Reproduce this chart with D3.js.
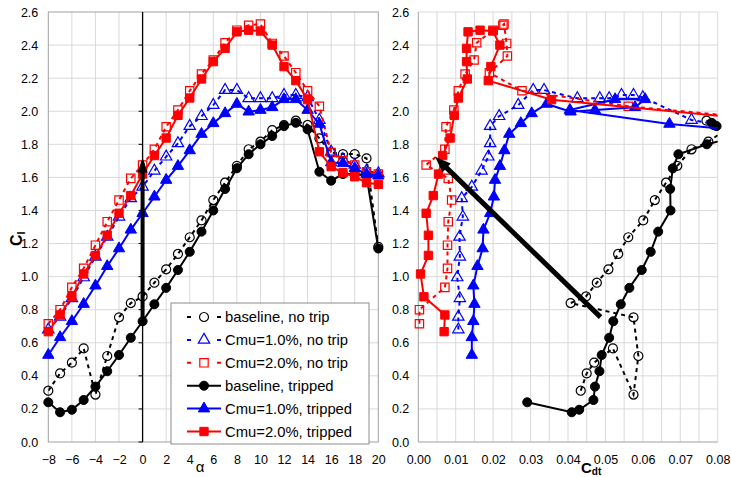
<!DOCTYPE html>
<html>
<head>
<meta charset="utf-8">
<script src="https://cdn.jsdelivr.net/npm/d3@7"></script>
<style>
  body { margin: 0; background: #fff; }
  svg text { font-family: Arial, "Liberation Sans", sans-serif; }
</style>
</head>
<body>
<svg id="chart" width="731" height="477"></svg>
<script>
// angle of attack for every series
var alpha = [-8, -7, -6, -5, -4, -3, -2, -1, 0, 1, 2, 3, 4, 5, 6, 7, 8, 9, 10, 11, 12, 13, 14, 15, 16, 17, 18, 19, 20];

// lift coefficient
var clBaseNoTrip = [0.31, 0.415, 0.48, 0.566, 0.287, 0.52, 0.754, 0.84, 0.88, 0.963, 1.044, 1.137, 1.238, 1.34, 1.463, 1.568, 1.67, 1.77, 1.816, 1.886, 1.916, 1.943, 1.917, 1.836, 1.75, 1.741, 1.741, 1.715, 1.18];
var clCmu1NoTrip = [0.68, 0.757, 0.869, 0.995, 1.12, 1.24, 1.362, 1.473, 1.543, 1.64, 1.725, 1.806, 1.91, 1.97, 2.037, 2.128, 2.128, 2.078, 2.078, 2.078, 2.098, 2.098, 2.084, 1.947, 1.755, 1.709, 1.675, 1.64, 1.624];
var clCmu2NoTrip = [0.715, 0.80, 0.935, 1.05, 1.19, 1.332, 1.463, 1.594, 1.675, 1.77, 1.906, 2.007, 2.124, 2.225, 2.31, 2.414, 2.49, 2.52, 2.527, 2.41, 2.334, 2.233, 2.124, 2.03, 1.75, 1.70, 1.675, 1.634, 1.62];
var clBaseTrip = [0.24, 0.18, 0.195, 0.254, 0.335, 0.428, 0.526, 0.63, 0.73, 0.833, 0.932, 1.04, 1.15, 1.272, 1.40, 1.53, 1.655, 1.74, 1.80, 1.85, 1.91, 1.93, 1.89, 1.634, 1.58, 1.62, 1.62, 1.61, 1.17];
var clCmu1Trip = [0.526, 0.633, 0.73, 0.834, 0.945, 1.063, 1.17, 1.283, 1.383, 1.483, 1.584, 1.668, 1.763, 1.862, 1.927, 1.987, 2.044, 1.997, 2.007, 2.024, 2.072, 2.072, 2.007, 1.923, 1.69, 1.685, 1.655, 1.62, 1.61];
var clCmu2Trip = [0.667, 0.768, 0.878, 1.016, 1.128, 1.25, 1.383, 1.49, 1.62, 1.732, 1.838, 1.975, 2.08, 2.195, 2.30, 2.38, 2.48, 2.49, 2.485, 2.40, 2.27, 2.185, 2.07, 1.755, 1.665, 1.628, 1.604, 1.568, 1.558];

// total drag coefficient (points past 0.08 fall outside the right plot)
var cdtBaseNoTrip = [0.0434, 0.045, 0.047, 0.052, 0.0575, 0.0588, 0.0575, 0.0407, 0.0448, 0.0477, 0.0508, 0.0534, 0.0561, 0.0601, 0.0632, 0.0662, 0.0692, 0.073, 0.0775, 0.082, 0.079, 0.077, 0.085, 0.095, 0.105, 0.11, 0.12, 0.13, 0.16];
var cdtCmu1NoTrip = [0.0107, 0.0107, 0.0111, 0.0104, 0.0111, 0.011, 0.0119, 0.0116, 0.0143, 0.0169, 0.0187, 0.0192, 0.0192, 0.0216, 0.0267, 0.0307, 0.0336, 0.0425, 0.0485, 0.051, 0.0543, 0.0575, 0.06, 0.073, 0.12, 0.13, 0.14, 0.15, 0.16];
var cdtCmu2NoTrip = [0.0003, 0.0003, 0.0071, 0.0078, 0.0078, 0.008, 0.0089, 0.008, 0.0021, 0.0071, 0.0074, 0.0095, 0.0107, 0.0125, 0.0149, 0.0156, 0.02, 0.0226, 0.0229, 0.0236, 0.0238, 0.019, 0.0277, 0.0561, 0.19, 0.2, 0.21, 0.22, 0.23];
var cdtBaseTrip = [0.0291, 0.041, 0.043, 0.0468, 0.0472, 0.0484, 0.049, 0.051, 0.0521, 0.0541, 0.0564, 0.0597, 0.0621, 0.0641, 0.0674, 0.0673, 0.068, 0.0695, 0.0771, 0.086, 0.0797, 0.0784, 0.083, 0.1, 0.11, 0.12, 0.13, 0.14, 0.17];
var cdtCmu1Trip = [0.0143, 0.0143, 0.0147, 0.015, 0.0147, 0.0158, 0.0172, 0.0174, 0.0192, 0.0202, 0.0205, 0.0218, 0.023, 0.0243, 0.0274, 0.0303, 0.0343, 0.0407, 0.0472, 0.0579, 0.0606, 0.0526, 0.0405, 0.0671, 0.183, 0.19, 0.2, 0.21, 0.22];
var cdtCmu2Trip = [0.0069, 0.0071, 0.0015, 0.0006, 0.0027, 0.0027, 0.0021, 0.004, 0.0054, 0.0065, 0.0085, 0.0096, 0.0107, 0.0131, 0.0129, 0.0129, 0.0133, 0.0165, 0.0199, 0.0218, 0.0194, 0.0187, 0.0356, 0.18, 0.2, 0.21, 0.22, 0.23, 0.24];

var seriesNames = ["baseline, no trip", "Cmu=1.0%, no trip", "Cmu=2.0%, no trip", "baseline, tripped", "Cmu=1.0%, tripped", "Cmu=2.0%, tripped"];

// tick labels
var alphaTicks = [-8, -6, -4, -2, 0, 2, 4, 6, 8, 10, 12, 14, 16, 18, 20];
var clTicks = [0, 0.2, 0.4, 0.6, 0.8, 1.0, 1.2, 1.4, 1.6, 1.8, 2.0, 2.2, 2.4, 2.6];
var cdtTicks = [0, 0.01, 0.02, 0.03, 0.04, 0.05, 0.06, 0.07, 0.08];

// annotation arrows [x1, y1, x2, y2] in data units
var arrowLeft = [0, 0.74, 0, 1.72];
var arrowRight = [0.0487, 0.755, 0.0045, 1.725];

var series = [
    { name: seriesNames[0], cl: clBaseNoTrip, cdt: cdtBaseNoTrip, color: "#000", dash: true, shape: "circle", filled: false },
    { name: seriesNames[1], cl: clCmu1NoTrip, cdt: cdtCmu1NoTrip, color: "#0000ff", dash: true, shape: "triangle", filled: false },
    { name: seriesNames[2], cl: clCmu2NoTrip, cdt: cdtCmu2NoTrip, color: "#ff0000", dash: true, shape: "square", filled: false },
    { name: seriesNames[3], cl: clBaseTrip, cdt: cdtBaseTrip, color: "#000", dash: false, shape: "circle", filled: true },
    { name: seriesNames[4], cl: clCmu1Trip, cdt: cdtCmu1Trip, color: "#0000ff", dash: false, shape: "triangle", filled: true },
    { name: seriesNames[5], cl: clCmu2Trip, cdt: cdtCmu2Trip, color: "#ff0000", dash: false, shape: "square", filled: true }
];

var svg = d3.select("#chart");
var gridColor = "#d9d9d9", frameColor = "#a0a0a0";

var xL = d3.scaleLinear().domain([-8, 20]).range([48.3, 378.3]);
var xR = d3.scaleLinear().domain([0, 0.08]).range([418.3, 717.7]);
var y = d3.scaleLinear().domain([0, 2.6]).range([442, 12]);

var defs = svg.append("defs");
defs.append("clipPath").attr("id", "clipL").append("rect")
    .attr("x", xL(-8)).attr("y", y(2.6)).attr("width", xL(20) - xL(-8)).attr("height", y(0) - y(2.6));
defs.append("clipPath").attr("id", "clipR").append("rect")
    .attr("x", xR(0)).attr("y", y(2.6)).attr("width", xR(0.08) - xR(0)).attr("height", y(0) - y(2.6));

function symbolPath(shape) {
    if (shape == "circle") return d3.symbol().type(d3.symbolCircle).size(64)();
    if (shape == "square") return d3.symbol().type(d3.symbolSquare).size(70)();
    return d3.symbol().type(d3.symbolTriangle).size(56)();
}

function arrowPoly(x1, y1, x2, y2, w, hw, hl) {
    var dx = x2 - x1, dy = y2 - y1, len = Math.sqrt(dx * dx + dy * dy);
    var ux = dx / len, uy = dy / len, px = -uy, py = ux;
    var bx = x2 - ux * hl, by = y2 - uy * hl;
    var pts = [
        [x1 + px * w / 2, y1 + py * w / 2],
        [bx + px * w / 2, by + py * w / 2],
        [bx + px * hw / 2, by + py * hw / 2],
        [x2, y2],
        [bx - px * hw / 2, by - py * hw / 2],
        [bx - px * w / 2, by - py * w / 2],
        [x1 - px * w / 2, y1 - py * w / 2]
    ];
    return "M" + pts.map(function (p) { return p[0] + "," + p[1]; }).join("L") + "Z";
}

// ---------- grids ----------
var gL = svg.append("g");
gL.selectAll(".vg").data(alphaTicks.slice(1, -1)).enter().append("line")
    .attr("x1", xL).attr("x2", xL).attr("y1", y(0)).attr("y2", y(2.6))
    .attr("stroke", gridColor);
gL.selectAll(".hg").data(clTicks.slice(1, -1)).enter().append("line")
    .attr("x1", xL(-8)).attr("x2", xL(20)).attr("y1", y).attr("y2", y)
    .attr("stroke", gridColor);
gL.append("rect")
    .attr("x", xL(-8)).attr("y", y(2.6)).attr("width", xL(20) - xL(-8)).attr("height", y(0) - y(2.6))
    .attr("fill", "none").attr("stroke", frameColor);

var gR = svg.append("g");
gR.selectAll(".vg").data(d3.range(1, 17)).enter().append("line")
    .attr("x1", function (d) { return xR(d * 0.005); }).attr("x2", function (d) { return xR(d * 0.005); })
    .attr("y1", y(0)).attr("y2", y(2.6)).attr("stroke", gridColor);
gR.selectAll(".hg").data(clTicks.slice(1)).enter().append("line")
    .attr("x1", xR(0)).attr("x2", xR(0.08)).attr("y1", y).attr("y2", y)
    .attr("stroke", gridColor);
gR.append("line").attr("x1", xR(0)).attr("x2", xR(0)).attr("y1", y(0)).attr("y2", y(2.6)).attr("stroke", frameColor);
gR.append("line").attr("x1", xR(0)).attr("x2", xR(0.08)).attr("y1", y(0)).attr("y2", y(0)).attr("stroke", frameColor);

// ---------- axes labels ----------
function styleAxis(sel) {
    sel.select(".domain").remove();
    sel.selectAll("text").attr("font-size", 12.5).attr("fill", "#000")
        .attr("font-family", "Arial, 'Liberation Sans', sans-serif");
}
svg.append("g").attr("transform", "translate(" + xL(-8) + ",0)")
    .call(d3.axisLeft(y).tickValues(clTicks).tickFormat(d3.format(".1f")).tickSize(0).tickPadding(10))
    .call(styleAxis);
svg.append("g").attr("transform", "translate(" + xR(0) + ",0)")
    .call(d3.axisLeft(y).tickValues(clTicks).tickFormat(d3.format(".1f")).tickSize(0).tickPadding(9))
    .call(styleAxis);
svg.append("g").attr("transform", "translate(0," + y(0) + ")")
    .call(d3.axisBottom(xL).tickValues(alphaTicks).tickFormat(d3.format("d")).tickSize(0).tickPadding(13))
    .call(styleAxis);
svg.append("g").attr("transform", "translate(0," + y(0) + ")")
    .call(d3.axisBottom(xR).tickValues(cdtTicks).tickFormat(d3.format(".2f")).tickSize(0).tickPadding(13))
    .call(styleAxis);

// y axis crossing at alpha = 0
var zeroAxis = svg.append("g");
zeroAxis.append("line").attr("x1", xL(0)).attr("x2", xL(0)).attr("y1", y(0)).attr("y2", y(2.6))
    .attr("stroke", "#000").attr("stroke-width", 1.3);
zeroAxis.selectAll(".tk").data(clTicks.slice(0, -1)).enter().append("line")
    .attr("x1", xL(0) - 4).attr("x2", xL(0)).attr("y1", y).attr("y2", y)
    .attr("stroke", "#000");

// titles
svg.append("text").attr("x", 200).attr("y", 472).attr("text-anchor", "middle")
    .attr("font-size", 15).text("α");
var ct = svg.append("text").attr("transform", "translate(22,246) rotate(-90)")
    .attr("font-size", 16).attr("font-weight", "bold");
ct.append("tspan").text("C");
ct.append("tspan").attr("font-size", 11).attr("dy", 3).text("l");
var cd = svg.append("text").attr("x", 581).attr("y", 473)
    .attr("font-size", 15).attr("font-weight", "bold");
cd.append("tspan").text("C");
cd.append("tspan").attr("font-size", 10).attr("dy", 2).text("dt");

// ---------- series ----------
function drawSeries(g, xs, xKey, clip, xmax) {
    series.forEach(function (s) {
        var pts = alpha.map(function (a, i) { return { x: xKey == "alpha" ? a : s.cdt[i], y: s.cl[i] }; });
        var line = d3.line().x(function (d) { return xs(d.x); }).y(function (d) { return y(d.y); });
        g.append("path").datum(pts)
            .attr("clip-path", "url(#" + clip + ")")
            .attr("d", line)
            .attr("fill", "none")
            .attr("stroke", s.color)
            .attr("stroke-width", 2)
            .attr("stroke-dasharray", s.dash ? "4,4" : null);
        g.selectAll(null).data(pts.filter(function (d) { return d.x <= xmax; })).enter().append("path")
            .attr("transform", function (d) { return "translate(" + xs(d.x) + "," + y(d.y) + ")"; })
            .attr("d", symbolPath(s.shape))
            .attr("fill", s.filled ? s.color : "none")
            .attr("stroke", s.color)
            .attr("stroke-width", s.filled ? 1 : 1.2);
    });
}
drawSeries(svg.append("g"), xL, "alpha", "clipL", 20);
drawSeries(svg.append("g"), xR, "cdt", "clipR", 0.0805);

// ---------- arrows ----------
svg.append("path")
    .attr("d", arrowPoly(xL(arrowLeft[0]), y(arrowLeft[1]), xL(arrowLeft[2]), y(arrowLeft[3]), 4, 10, 15))
    .attr("fill", "#000");
svg.append("path")
    .attr("d", arrowPoly(xR(arrowRight[0]), y(arrowRight[1]), xR(arrowRight[2]), y(arrowRight[3]), 5, 12, 16))
    .attr("fill", "#000");

// ---------- legend ----------
var legend = svg.append("g");
legend.append("rect").attr("x", 171).attr("y", 303).attr("width", 198).attr("height", 141)
    .attr("fill", "#fff").attr("stroke", "#8c8c8c");
var item = legend.selectAll(".item").data(series).enter().append("g")
    .attr("transform", function (d, i) { return "translate(0," + (317 + i * 22.9) + ")"; });
item.append("line").attr("x1", 187).attr("x2", 221).attr("y1", 0).attr("y2", 0)
    .attr("stroke", function (d) { return d.color; }).attr("stroke-width", 2)
    .attr("stroke-dasharray", function (d) { return d.dash ? "4,26,4" : null; });
item.append("path").attr("transform", "translate(204,0)")
    .attr("d", function (d) { return symbolPath(d.shape); })
    .attr("fill", function (d) { return d.filled ? d.color : "#fff"; })
    .attr("stroke", function (d) { return d.color; })
    .attr("stroke-width", function (d) { return d.filled ? 1 : 1.2; });
item.append("text").attr("x", 225).attr("y", 0).attr("dy", "0.35em")
    .attr("font-size", 14.8).text(function (d) { return d.name; });
</script>
</body>
</html>
